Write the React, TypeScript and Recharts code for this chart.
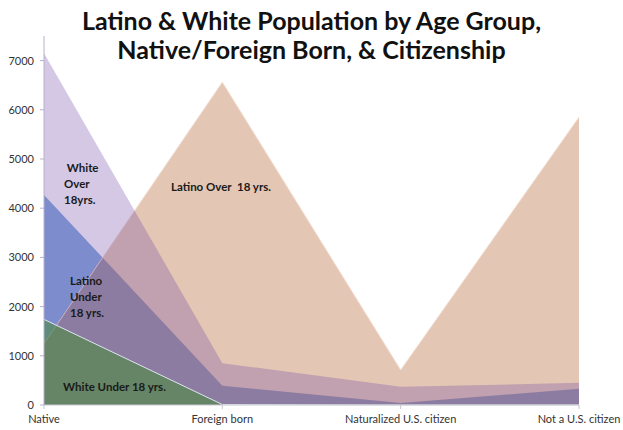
import React from "react";
import { Area, AreaChart, XAxis, YAxis } from "recharts";

const categories = ["Native", "Foreign born", "Naturalized U.S. citizen", "Not a U.S. citizen"];
const whiteOver18 = [7150, 850, 370, 450];
const latinoOver18 = [1250, 6560, 710, 5850];
const latinoUnder18 = [4270, 390, 40, 330];
const whiteUnder18 = [1740, 10, 0, 0];
const yTicks = [0, 1000, 2000, 3000, 4000, 5000, 6000, 7000];

const data = categories.map((name, i) => ({
  name,
  whiteOver: whiteOver18[i],
  latinoOver: latinoOver18[i],
  latinoUnder: latinoUnder18[i],
  whiteUnder: whiteUnder18[i],
}));

const font = "Lato, 'Open Sans', sans-serif";

const noteStyle: React.CSSProperties = {
  position: "absolute",
  fontFamily: font,
  fontWeight: 700,
  fontSize: 11.5,
  lineHeight: "16px",
  color: "#1a1a1a",
  whiteSpace: "pre",
};

export default function App() {
  return (
    <div style={{ position: "absolute", left: 0, top: 0, width: 623, height: 430, background: "#fff" }}>
      <div
        style={{
          position: "absolute",
          left: 0,
          top: 6,
          width: 623,
          textAlign: "center",
          fontFamily: font,
          fontWeight: 700,
          fontSize: 25,
          lineHeight: "29px",
          color: "#111",
        }}
      >
        Latino &amp; White Population by Age Group,
        <br />
        Native/Foreign Born, &amp; Citizenship
      </div>
      <AreaChart
        width={623}
        height={430}
        data={data}
        margin={{ top: 36, right: 44, bottom: 0, left: 0 }}
      >
        <XAxis
          dataKey="name"
          height={25}
          tickSize={4}
          tickMargin={6}
          stroke="#c8c8d0"
          tick={{ fill: "#333", fontSize: 11, fontFamily: font }}
          interval={0}
        />
        <YAxis
          width={44}
          domain={[0, 7500]}
          ticks={yTicks}
          tickSize={4}
          tickMargin={6}
          stroke="#b8b0cc"
          tick={{ fill: "#333", fontSize: 11, fontFamily: font }}
        />
        <Area
          type="linear"
          dataKey="latinoUnder"
          stroke="none"
          fill="#3070c8"
          fillOpacity={0.6}
          isAnimationActive={false}
        />
        <Area
          type="linear"
          dataKey="latinoOver"
          stroke="#f2dcd0"
          strokeWidth={1}
          fill="#bc7144"
          fillOpacity={0.4}
          isAnimationActive={false}
        />
        <Area
          type="linear"
          dataKey="whiteOver"
          stroke="none"
          fill="#7048a5"
          fillOpacity={0.3}
          isAnimationActive={false}
        />
        <Area
          type="linear"
          dataKey="whiteUnder"
          stroke="#dde6ee"
          strokeWidth={1}
          fill="#4b8c40"
          fillOpacity={0.6}
          isAnimationActive={false}
        />
      </AreaChart>
      <div style={{ ...noteStyle, left: 64, top: 160 }}>{" White\nOver\n18yrs."}</div>
      <div style={{ ...noteStyle, left: 171, top: 179 }}>{"Latino Over  18 yrs."}</div>
      <div style={{ ...noteStyle, left: 70, top: 273 }}>{"Latino\nUnder\n18 yrs."}</div>
      <div style={{ ...noteStyle, left: 63, top: 379 }}>{"White Under 18 yrs."}</div>
    </div>
  );
}
